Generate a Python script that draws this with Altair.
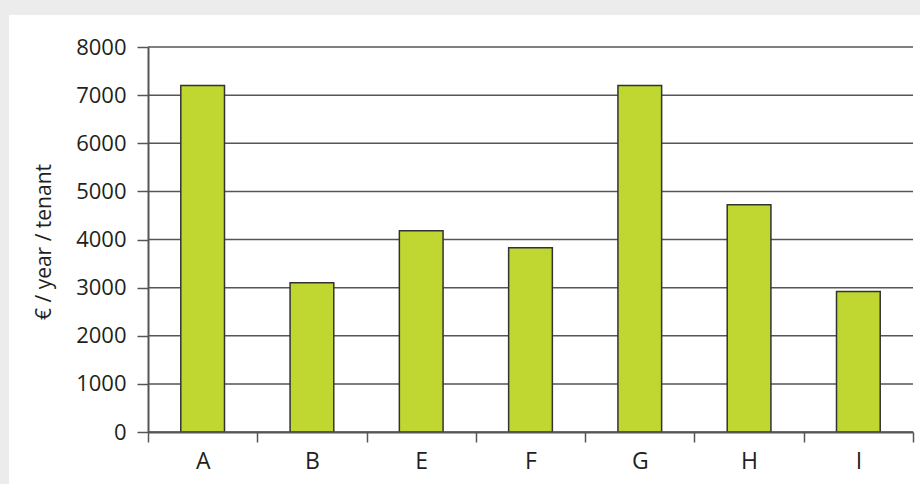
import altair as alt
import pandas as pd

categories = ["A", "B", "E", "F", "G", "H", "I"]
values = [7200, 3100, 4180, 3830, 7200, 4720, 2920]
y_ticks = [0, 1000, 2000, 3000, 4000, 5000, 6000, 7000, 8000]

df = pd.DataFrame({"cat": categories, "val": values})
grid_df = pd.DataFrame({"v": y_ticks})

W, H = 765, 385
FONT = "Open Sans"
DARK = "#231f20"
LINE = "#555555"

yscale = alt.Scale(domain=[0, 8000], nice=False)
yaxis = alt.Axis(title="€ / year / tenant", values=y_ticks, format="d",
                 labelFont=FONT, labelFontSize=22, labelColor=DARK,
                 titleFont=FONT, titleFontSize=21, titleFontWeight="normal",
                 titleColor=DARK, titleX=-104, titleY=H / 2 + 2,
                 titleBaseline="middle",
                 tickSize=11, tickColor=LINE, tickWidth=1.5,
                 domainColor=LINE, domainWidth=2, labelPadding=11,
                 grid=False, zindex=1)

card = alt.Chart(pd.DataFrame({"k": [0]})).mark_rect(color="white").encode(
    x=alt.value(-139), x2=alt.value(W + 20), y=alt.value(-32), y2=alt.value(H + 70)
)

grid = alt.Chart(grid_df).mark_rule(color=LINE, strokeWidth=1.5).encode(
    y=alt.Y("v:Q", scale=yscale, axis=yaxis),
    x=alt.value(0), x2=alt.value(W),
)

bars = alt.Chart(df).mark_bar(
    color="#bfd730", stroke="#333333", strokeWidth=1.5,
    width=alt.RelativeBandSize(0.4),
).encode(
    x=alt.X("cat:N", sort=categories,
            scale=alt.Scale(paddingInner=0, paddingOuter=0),
            axis=alt.Axis(title=None, labelAngle=0, labelFont=FONT, labelFontSize=23,
                          labelColor=DARK, tickBand="extent", tickSize=10,
                          tickColor=LINE, tickWidth=1.5, domainColor=LINE,
                          domainWidth=2, labelPadding=8, grid=False, zindex=1)),
    y=alt.Y("val:Q", scale=yscale, axis=yaxis),
)

chart = alt.layer(card, grid, bars).properties(
    width=W, height=H,
    autosize=alt.AutoSizeParams(type="none"),
    padding={"left": 148, "top": 47, "right": 7, "bottom": 52},
    background="#ececec",
).configure_view(stroke=None)

chart.save("out.html", embed_options={"renderer": "svg", "actions": False})
